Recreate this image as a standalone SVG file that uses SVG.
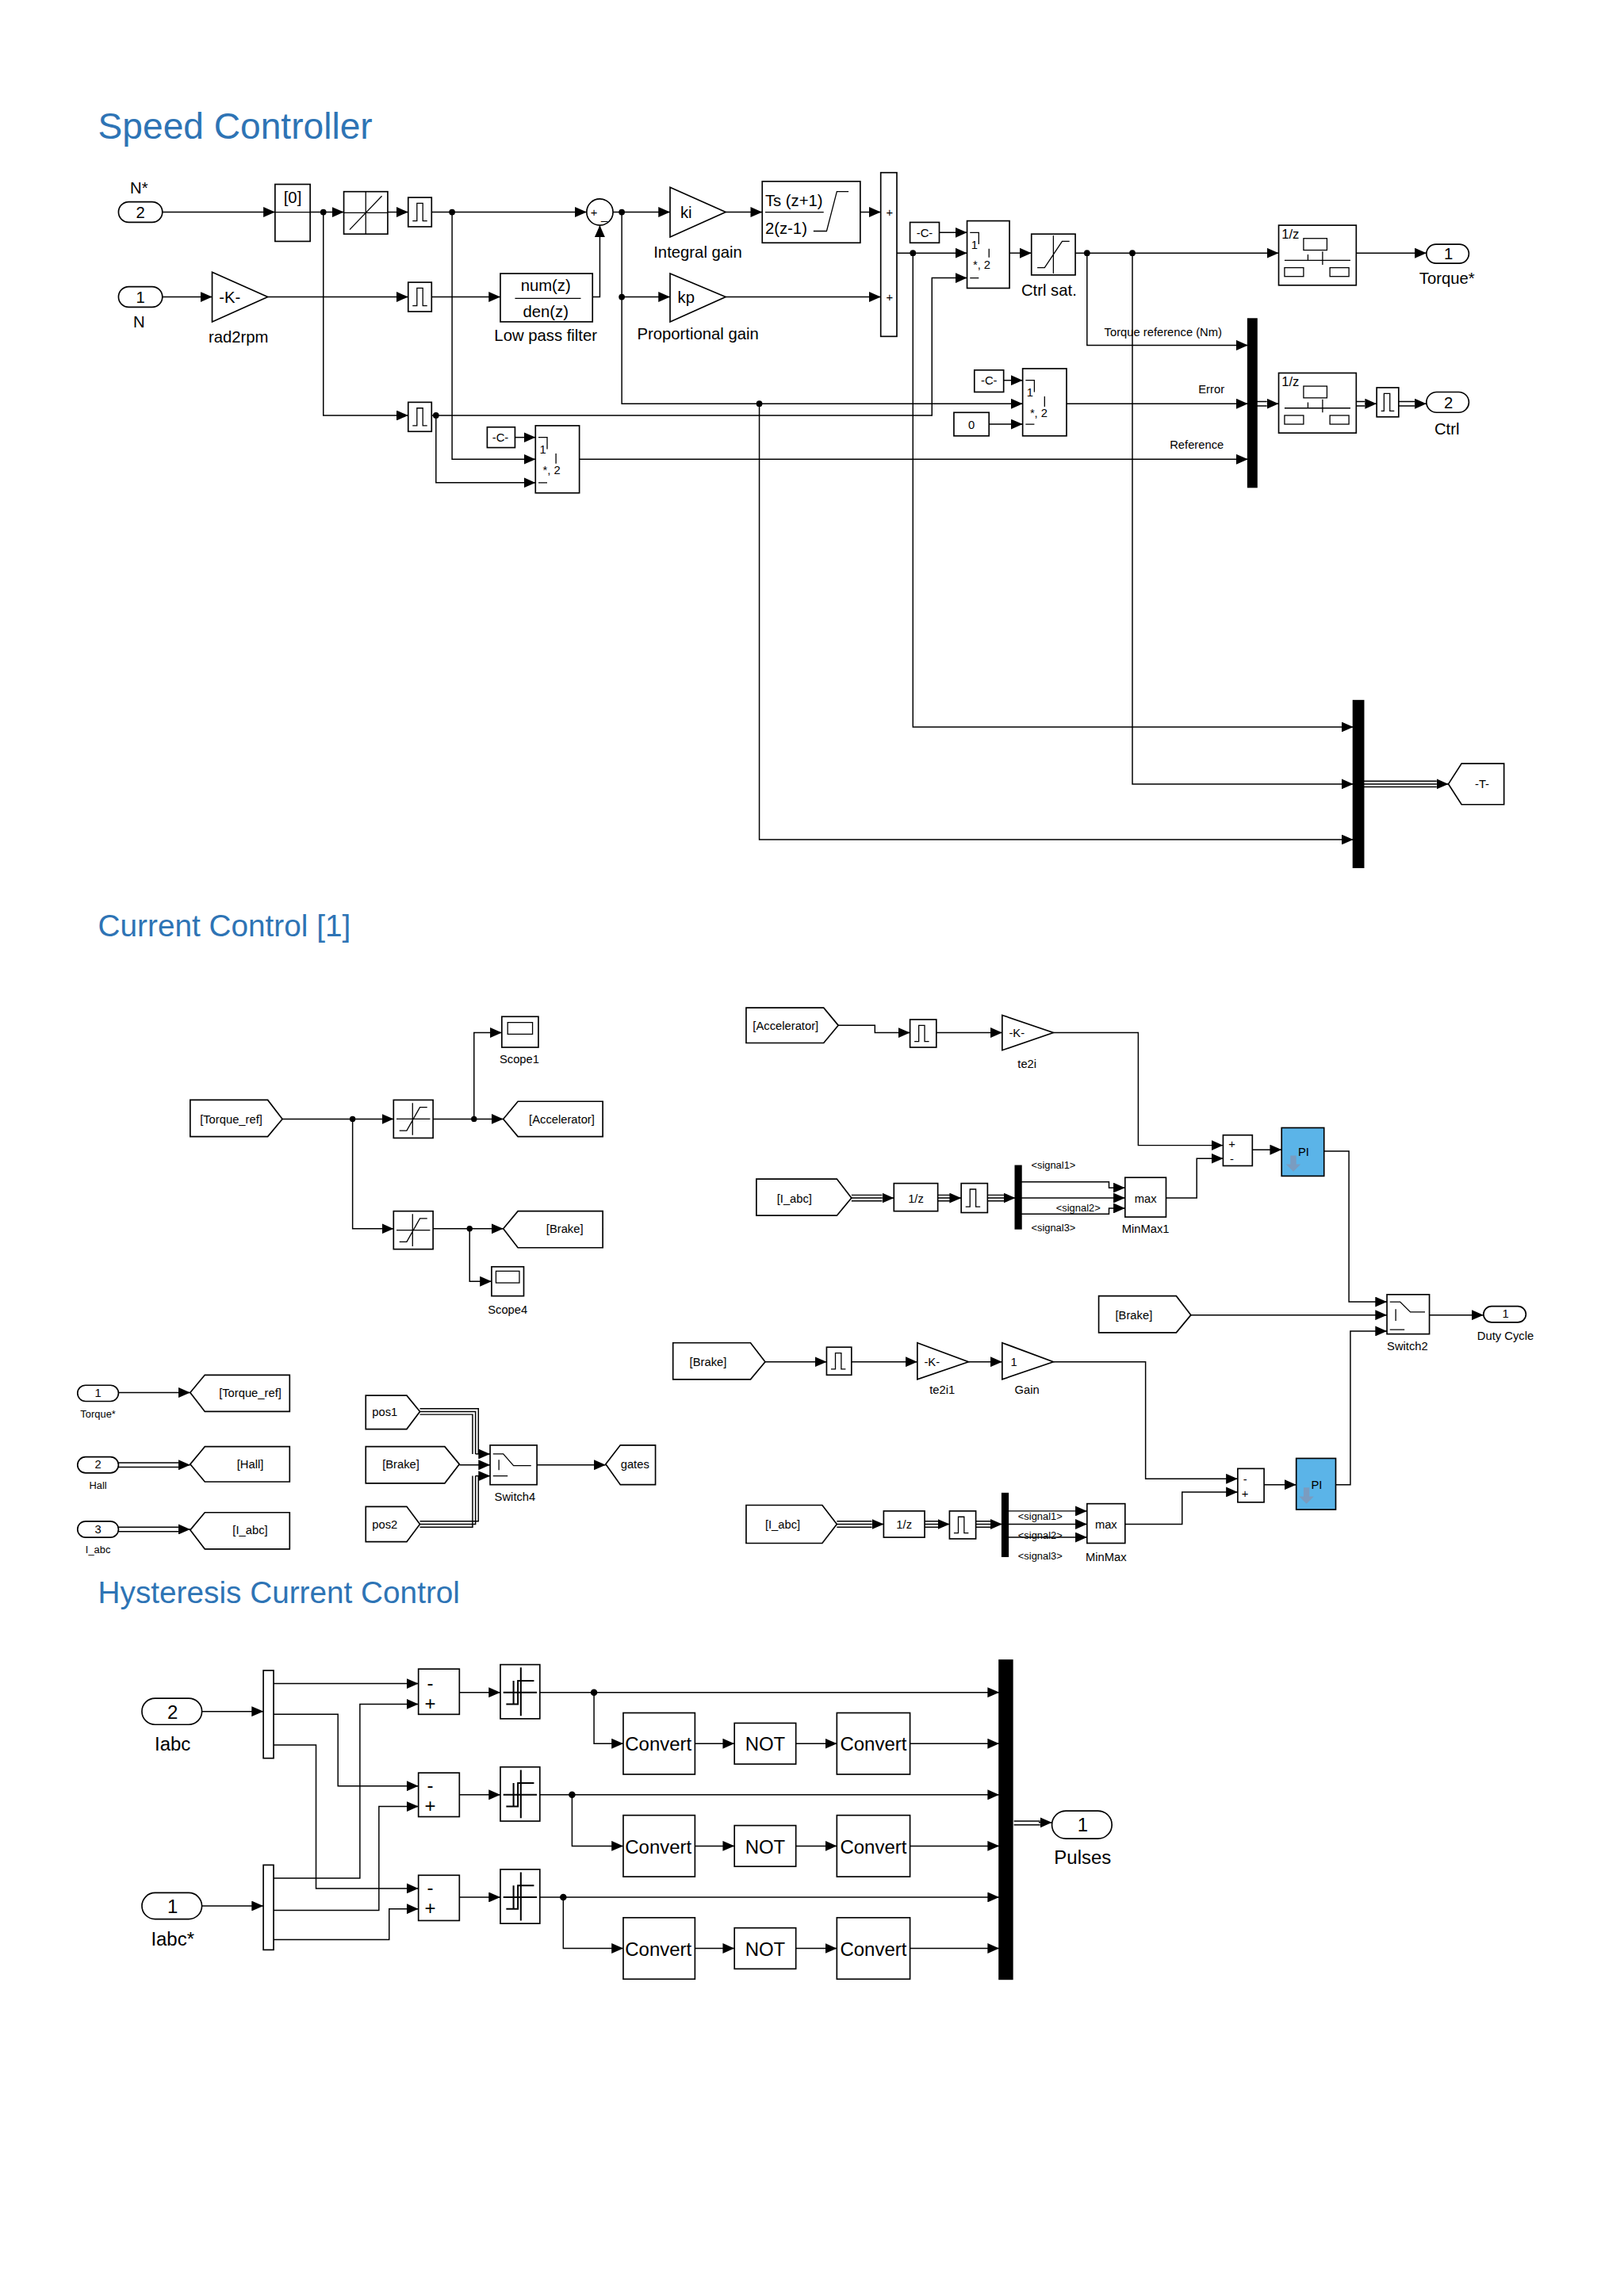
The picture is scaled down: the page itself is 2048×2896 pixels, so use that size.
<svg xmlns="http://www.w3.org/2000/svg" width="2048" height="2896" viewBox="0 0 2048 2896">
<style>
.b{fill:#fff;stroke:#000;stroke-width:0.9}
.k{fill:#000;stroke:#000}
.w{fill:none;stroke:#000;stroke-width:0.8}
.wa{fill:none;stroke:#000;stroke-width:0.8;marker-end:url(#a)}
.ic{fill:none;stroke:#000;stroke-width:0.7}
text{font-family:"Liberation Sans",Arial,sans-serif;fill:#000}
.s{font-size:11px;text-anchor:middle}
.m{font-size:8px;text-anchor:middle}
.h{font-size:13px;text-anchor:middle}
.ti{font-size:25px;fill:#2e74b5}
.ti2{font-size:21px;fill:#2e74b5}
.pi{fill:#5bb4e8;stroke:#000;stroke-width:0.9}
</style>
<defs>
<marker id="a" markerUnits="userSpaceOnUse" markerWidth="8" markerHeight="7" refX="8" refY="3.5" orient="auto"><path d="M0,0 L8,3.5 L0,7 z" fill="#000"/></marker>
</defs>
<rect width="2048" height="2896" fill="#fff"/>
<g transform="scale(1.845)">
<text class="ti" x="67" y="95">Speed Controller</text>
<text class="ti2" x="67" y="640">Current Control [1]</text>
<text class="ti2" x="67" y="1096">Hysteresis Current Control</text>

<!-- ===== Speed controller connectors ===== -->
<g id="sc-connectors">
<path class="wa" d="M111,145 H188"/>
<path class="wa" d="M212,145 H235"/>
<path class="wa" d="M265,145 H279"/>
<path class="wa" d="M295,145 H401"/>
<path class="wa" d="M419,145 H458"/>
<path class="wa" d="M496,145 H521"/>
<path class="wa" d="M588,145 H602"/>
<path class="wa" d="M111,203 H145"/>
<path class="wa" d="M183,203 H279"/>
<path class="wa" d="M295,203 H342"/>
<path class="wa" d="M405,203 H410 V154"/>
<path class="wa" d="M425,145 V276 H699"/>
<path class="wa" d="M425,203 H458"/>
<path class="wa" d="M496,203 H602"/>
<path class="wa" d="M613,173 H661"/>
<path class="wa" d="M642,159 H661"/>
<path class="wa" d="M221,145 V284 H279"/>
<path class="wa" d="M295,284 H637 V190 H661"/>
<path class="wa" d="M298,284 V330 H366"/>
<path class="wa" d="M309,145 V314 H366"/>
<path class="wa" d="M352,299 H366"/>
<path class="wa" d="M396,314 H853"/>
<path class="wa" d="M690,173 H705"/>
<path class="wa" d="M735,173 H874"/>
<path class="wa" d="M927,173 H975"/>
<path class="wa" d="M743,173 V236 H853"/>
<path class="wa" d="M686,260 H699"/>
<path class="wa" d="M676,290 H699"/>
<path class="wa" d="M729,276 H853"/>
<path class="w" d="M859,274.5 H866 M859,277.5 H866 M927,274.5 H933 M927,277.5 H933 M956,274.5 H967 M956,277.5 H967"/>
<path class="wa" d="M866,276 H874"/>
<path class="wa" d="M933,276 H941"/>
<path class="wa" d="M967,276 H975"/>
<path class="wa" d="M624,173 V497 H925"/>
<path class="wa" d="M774,173 V536 H925"/>
<path class="wa" d="M519,276 V574 H925"/>
<path class="w" d="M932,534 H982 M932,536 H982 M932,538 H982"/>
<path class="wa" d="M982,536 H990"/>
<g class="k"><circle cx="221" cy="145" r="1.6"/><circle cx="309" cy="145" r="1.6"/><circle cx="425" cy="145" r="1.6"/><circle cx="425" cy="203" r="1.6"/><circle cx="298" cy="284" r="1.6"/><circle cx="519" cy="276" r="1.6"/><circle cx="624" cy="173" r="1.6"/><circle cx="743" cy="173" r="1.6"/><circle cx="774" cy="173" r="1.6"/></g>
<text class="m" x="795" y="230">Torque reference (Nm)</text>
<text class="m" x="828" y="269">Error</text>
<text class="m" x="818" y="307">Reference</text>
</g>

<!-- ===== Speed controller nodes ===== -->
<g id="sc-in2"><rect class="b" x="81" y="138" width="30" height="14" rx="7"/><text class="s" x="96" y="149">2</text><text class="s" x="95" y="132">N*</text></g>
<g id="sc-in1"><rect class="b" x="81" y="196" width="30" height="14" rx="7"/><text class="s" x="96" y="207">1</text><text class="s" x="95" y="224">N</text></g>
<g id="sc-ic"><rect class="b" x="188" y="126" width="24" height="39"/><path class="ic" d="M188,145 H212"/><text class="s" x="200" y="139">[0]</text></g>
<g id="sc-rl"><rect class="b" x="235" y="131" width="30" height="29"/><path class="ic" d="M250,131 V160 M235,145.5 H265 M239,157 L261,134"/></g>
<g id="sc-zoh1"><rect class="b" x="279" y="135" width="16" height="20"/><path class="ic" d="M282,151 h3 v-12 h4 v12 h3"/></g>
<g id="sc-zoh2"><rect class="b" x="279" y="193" width="16" height="20"/><path class="ic" d="M282,209 h3 v-12 h4 v12 h3"/></g>
<g id="sc-zoh3"><rect class="b" x="279" y="275" width="16" height="20"/><path class="ic" d="M282,291 h3 v-12 h4 v12 h3"/></g>
<g id="sc-sum"><circle class="b" cx="410" cy="145" r="9"/><text class="m" x="406" y="148">+</text><text class="m" x="413" y="150">_</text></g>
<g id="sc-k"><path class="b" d="M145,186 L183,203 L145,220 Z"/><text class="s" x="157" y="207">-K-</text><text class="s" x="163" y="234">rad2rpm</text></g>
<g id="sc-lpf"><rect class="b" x="342" y="187" width="63" height="33"/><path class="ic" d="M352,204 H397"/><text class="s" x="373" y="199">num(z)</text><text class="s" x="373" y="217">den(z)</text><text class="s" x="373" y="233">Low pass filter</text></g>
<g id="sc-ki"><path class="b" d="M458,128 L496,145 L458,162 Z"/><text class="s" x="469" y="149">ki</text><text class="s" x="477" y="176">Integral gain</text></g>
<g id="sc-kp"><path class="b" d="M458,187 L496,203 L458,220 Z"/><text class="s" x="469" y="207">kp</text><text class="s" x="477" y="232">Proportional gain</text></g>
<g id="sc-int"><rect class="b" x="521" y="124" width="67" height="42"/><path class="ic" d="M523,145 H563 M556,158 H565 L572,131 H580"/><text x="523" y="141" style="font-size:11px">Ts (z+1)</text><text x="523" y="160" style="font-size:11px">2(z-1)</text></g>
<g id="sc-sum2"><rect class="b" x="602" y="118" width="11" height="112"/><text class="m" x="608" y="148">+</text><text class="m" x="608" y="206">+</text></g>
<g id="sc-c1"><rect class="b" x="622" y="152" width="20" height="14"/><text class="m" x="632" y="162">-C-</text></g>
<g id="sc-sw1"><rect class="b" x="661" y="151" width="29" height="46"/><path class="ic" d="M663,159 H669 V167 M676,170 V176 M663,190 H669"/><text class="m" x="666" y="170">1</text><text class="m" x="671" y="184">*, 2</text></g>
<g id="sc-sat"><rect class="b" x="705" y="160" width="30" height="28"/><path class="ic" d="M709,183 h5 L726,165 h5 M720,161 V187"/><text class="s" x="717" y="202">Ctrl sat.</text></g>
<g id="sc-rt1"><rect class="b" x="874" y="154" width="53" height="41"/><text x="876" y="163" style="font-size:9px">1/z</text><rect class="ic" x="891" y="163" width="16" height="8"/><path class="ic" d="M878,178 H923 M894,178 V174 M904,172 V181"/><rect class="ic" x="878" y="183" width="13" height="6"/><rect class="ic" x="909" y="183" width="13" height="6"/></g>
<g id="sc-out1"><rect class="b" x="975" y="167" width="29" height="13" rx="6.5"/><text class="s" x="990" y="177">1</text><text class="s" x="989" y="194">Torque*</text></g>
<g id="sc-mux1"><rect class="k" x="853" y="218" width="6" height="115"/></g>
<g id="sc-c2"><rect class="b" x="666" y="253" width="20" height="15"/><text class="m" x="676" y="263">-C-</text></g>
<g id="sc-z0"><rect class="b" x="652" y="282" width="24" height="16"/><text class="m" x="664" y="293">0</text></g>
<g id="sc-sw2"><rect class="b" x="699" y="252" width="30" height="46"/><path class="ic" d="M701,260 H707 V268 M714,271 V278 M701,290 H707"/><text class="m" x="704" y="271">1</text><text class="m" x="710" y="285">*, 2</text></g>
<g id="sc-rt2"><rect class="b" x="874" y="255" width="53" height="41"/><text x="876" y="264" style="font-size:9px">1/z</text><rect class="ic" x="891" y="264" width="16" height="8"/><path class="ic" d="M878,279 H923 M894,279 V275 M904,273 V282"/><rect class="ic" x="878" y="284" width="13" height="6"/><rect class="ic" x="909" y="284" width="13" height="6"/></g>
<g id="sc-zoh4"><rect class="b" x="941" y="265" width="15" height="20"/><path class="ic" d="M944,281 h2 v-12 h4 v12 h3"/></g>
<g id="sc-out2"><rect class="b" x="975" y="268" width="29" height="14" rx="7"/><text class="s" x="990" y="279">2</text><text class="s" x="989" y="297">Ctrl</text></g>
<g id="sc-c3"><rect class="b" x="333" y="292" width="19" height="14"/><text class="m" x="342" y="302">-C-</text></g>
<g id="sc-sw3"><rect class="b" x="366" y="291" width="30" height="46"/><path class="ic" d="M368,299 H374 V307 M380,310 V317 M368,330 H374"/><text class="m" x="371" y="310">1</text><text class="m" x="377" y="324">*, 2</text></g>
<g id="sc-mux2"><rect class="k" x="925" y="479" width="7" height="114"/></g>
<g id="sc-gotoT"><path class="b" d="M990,536 L999,522 H1028 V550 H999 Z"/><text class="m" x="1013" y="539">-T-</text></g>

<!-- ===== Current control connectors ===== -->
<g id="cc-connectors">
<path class="wa" d="M193,765 H269"/>
<path class="wa" d="M296,765 H344"/>
<path class="wa" d="M324,765 V706 H343"/>
<path class="wa" d="M241,765 V840 H269"/>
<path class="wa" d="M296,840 H344"/>
<path class="wa" d="M321,840 V876 H336"/>
<path class="wa" d="M81,952 H130"/>
<path class="w" d="M81,1000 H122 M81,1003 H122"/><path class="wa" d="M122,1001.5 H130"/>
<path class="w" d="M81,1044 H122 M81,1047 H122"/><path class="wa" d="M122,1045.5 H130"/>
<path class="w" d="M287,963 H327 V994 M287,965 H325 V994 M287,967 H323 V994"/><path class="wa" d="M325,994 H335"/>
<path class="wa" d="M314,1001.5 H335"/>
<path class="w" d="M287,1040 H327 V1009 M287,1042 H325 V1009 M287,1044 H323 V1009"/><path class="wa" d="M325,1009 H335"/>
<path class="wa" d="M367,1001.5 H414"/>
<g class="k"><circle cx="241" cy="765" r="1.5"/><circle cx="324" cy="765" r="1.5"/><circle cx="321" cy="840" r="1.5"/></g>

<path class="wa" d="M573,701 H598 V706 H622"/>
<path class="wa" d="M640,706 H685"/>
<path class="wa" d="M720,706 H778 V783 H836"/>
<path class="wa" d="M856,786 H876"/>
<path class="wa" d="M905,787 H922 V890 H948"/>
<path class="w" d="M582,817 H603 M582,819 H603 M582,821 H603"/><path class="wa" d="M603,819 H611"/>
<path class="w" d="M641,817 H650 M641,819 H650 M641,821 H650"/><path class="wa" d="M650,819 H657"/>
<path class="w" d="M675,817 H688 M675,819 H688 M675,821 H688"/><path class="wa" d="M688,819 H694"/>
<path class="wa" d="M698,808 H758 V812 H769"/>
<path class="wa" d="M698,819 H769"/>
<path class="wa" d="M698,830 H758 V826 H769"/>
<path class="wa" d="M797,819 H818 V792 H836"/>
<path class="wa" d="M814,899 H948"/>
<path class="wa" d="M977,899 H1014"/>
<path class="wa" d="M523,931 H565"/>
<path class="wa" d="M582,931 H627"/>
<path class="wa" d="M662,931 H685"/>
<path class="wa" d="M720,931 H783 V1011 H846"/>
<path class="wa" d="M864,1015 H886"/>
<path class="wa" d="M913,1015 H923 V910 H948"/>
<path class="w" d="M572,1040 H596 M572,1042 H596 M572,1044 H596"/><path class="wa" d="M596,1042 H604"/>
<path class="w" d="M632,1040 H642 M632,1042 H642 M632,1044 H642"/><path class="wa" d="M642,1042 H649"/>
<path class="w" d="M667,1040 H679 M667,1042 H679 M667,1044 H679"/><path class="wa" d="M679,1042 H685"/>
<path class="wa" d="M689,1033 H743"/>
<path class="wa" d="M689,1042 H743"/>
<path class="wa" d="M689,1051 H743"/>
<path class="wa" d="M769,1042 H808 V1020 H846"/>
<text class="m" x="720" y="799" style="font-size:7px">&lt;signal1&gt;</text>
<text class="m" x="737" y="828" style="font-size:7px">&lt;signal2&gt;</text>
<text class="m" x="720" y="842" style="font-size:7px">&lt;signal3&gt;</text>
<text class="m" x="711" y="1039" style="font-size:7px">&lt;signal1&gt;</text>
<text class="m" x="711" y="1052" style="font-size:7px">&lt;signal2&gt;</text>
<text class="m" x="711" y="1066" style="font-size:7px">&lt;signal3&gt;</text>
</g>

<!-- ===== Current control nodes ===== -->
<g id="cc-from-tr"><path class="b" d="M130,752 H183 L193,765 L183,777 H130 Z"/><text class="m" x="158" y="768">[Torque_ref]</text></g>
<g id="cc-sat1"><rect class="b" x="269" y="752" width="27" height="26"/><path class="ic" d="M273,773 h5 L287,757 h5 M282,754 V776 M271,765 H294"/></g>
<g id="cc-sat2"><rect class="b" x="269" y="828" width="27" height="26"/><path class="ic" d="M273,849 h5 L287,833 h5 M282,830 V852 M271,841 H294"/></g>
<g id="cc-scope1"><rect class="b" x="343" y="695" width="25" height="21"/><rect class="ic" x="347" y="699" width="17" height="8"/><text class="m" x="355" y="727">Scope1</text></g>
<g id="cc-goto-acc"><path class="b" d="M344,765 L354,753 H412 V777 H354 Z"/><text class="m" x="384" y="768">[Accelerator]</text></g>
<g id="cc-goto-brake"><path class="b" d="M344,840 L354,828 H412 V853 H354 Z"/><text class="m" x="386" y="843">[Brake]</text></g>
<g id="cc-scope4"><rect class="b" x="336" y="866" width="22" height="20"/><rect class="ic" x="339" y="869" width="16" height="8"/><text class="m" x="347" y="898">Scope4</text></g>
<g id="cc-in1"><rect class="b" x="53" y="947" width="28" height="11" rx="5.5"/><text class="m" x="67" y="955">1</text><text class="m" x="67" y="969" style="font-size:7px">Torque*</text></g>
<g id="cc-in2"><rect class="b" x="53" y="996" width="28" height="11" rx="5.5"/><text class="m" x="67" y="1004">2</text><text class="m" x="67" y="1018" style="font-size:7px">Hall</text></g>
<g id="cc-in3"><rect class="b" x="53" y="1040" width="28" height="11" rx="5.5"/><text class="m" x="67" y="1048">3</text><text class="m" x="67" y="1062" style="font-size:7px">I_abc</text></g>
<g id="cc-goto-tr"><path class="b" d="M130,952 L140,940 H198 V965 H140 Z"/><text class="m" x="171" y="955">[Torque_ref]</text></g>
<g id="cc-goto-hall"><path class="b" d="M130,1001 L140,989 H198 V1013 H140 Z"/><text class="m" x="171" y="1004">[Hall]</text></g>
<g id="cc-goto-iabc"><path class="b" d="M130,1046 L140,1034 H198 V1059 H140 Z"/><text class="m" x="171" y="1049">[I_abc]</text></g>
<g id="cc-pos1"><path class="b" d="M250,954 H278 L287,965 L278,977 H250 Z"/><text class="m" x="263" y="968">pos1</text></g>
<g id="cc-from-brake2"><path class="b" d="M250,989 H304 L314,1001 L304,1014 H250 Z"/><text class="m" x="274" y="1004">[Brake]</text></g>
<g id="cc-pos2"><path class="b" d="M250,1030 H278 L287,1042 L278,1054 H250 Z"/><text class="m" x="263" y="1045">pos2</text></g>
<g id="cc-sw4"><rect class="b" x="335" y="988" width="32" height="27"/><path class="ic" d="M337,994 H344 L351,1002 H363 M341,998 V1005 M337,1009 H347"/><text class="m" x="352" y="1026">Switch4</text></g>
<g id="cc-gates"><path class="b" d="M414,1001 L424,988 H448 V1015 H424 Z"/><text class="m" x="434" y="1004">gates</text></g>

<g id="cc-from-acc"><path class="b" d="M510,689 H563 L573,701 L563,713 H510 Z"/><text class="m" x="537" y="704">[Accelerator]</text></g>
<g id="cc-zoh1"><rect class="b" x="622" y="697" width="18" height="19"/><path class="ic" d="M625,712 h3 v-11 h4 v11 h3"/></g>
<g id="cc-k1"><path class="b" d="M685,694 L720,706 L685,718 Z"/><text class="m" x="695" y="709">-K-</text><text class="m" x="702" y="730">te2i</text></g>
<g id="cc-sum1"><rect class="b" x="836" y="776" width="20" height="21"/><text class="m" x="842" y="785">+</text><text class="m" x="842" y="795">-</text></g>
<g id="cc-pi1"><rect class="pi" x="876" y="771" width="29" height="33"/><text class="m" x="891" y="790">PI</text><path d="M882,790 h4 v6 h3 l-5,5 l-5,-5 h3 z" fill="#7a9cc0"/></g>
<g id="cc-from-iabc1"><path class="b" d="M517,806 H572 L582,819 L572,831 H517 Z"/><text class="m" x="543" y="822">[I_abc]</text></g>
<g id="cc-d1"><rect class="b" x="611" y="809" width="30" height="19"/><text class="m" x="626" y="822">1/z</text></g>
<g id="cc-zoh2"><rect class="b" x="657" y="809" width="18" height="20"/><path class="ic" d="M660,825 h3 v-12 h4 v12 h3"/></g>
<g id="cc-demux1"><rect class="k" x="694" y="797" width="4" height="43"/></g>
<g id="cc-max1"><rect class="b" x="769" y="805" width="28" height="27"/><text class="m" x="783" y="822">max</text><text class="m" x="783" y="843">MinMax1</text></g>
<g id="cc-from-brake3"><path class="b" d="M751,886 H804 L814,899 L804,911 H751 Z"/><text class="m" x="775" y="902">[Brake]</text></g>
<g id="cc-sw2"><rect class="b" x="948" y="885" width="29" height="27"/><path class="ic" d="M950,890 H957 L964,897 H974 M954,895 V903 M950,909 H960"/><text class="m" x="962" y="923">Switch2</text></g>
<g id="cc-duty"><rect class="b" x="1014" y="893" width="29" height="11" rx="5.5"/><text class="m" x="1029" y="901">1</text><text class="m" x="1029" y="916">Duty Cycle</text></g>
<g id="cc-from-brake4"><path class="b" d="M460,918 H513 L523,931 L513,943 H460 Z"/><text class="m" x="484" y="934">[Brake]</text></g>
<g id="cc-zoh3"><rect class="b" x="565" y="921" width="17" height="19"/><path class="ic" d="M568,936 h3 v-11 h4 v11 h3"/></g>
<g id="cc-k2"><path class="b" d="M627,918 L662,931 L627,943 Z"/><text class="m" x="637" y="934">-K-</text><text class="m" x="644" y="953">te2i1</text></g>
<g id="cc-gain"><path class="b" d="M685,918 L720,931 L685,943 Z"/><text class="m" x="693" y="934">1</text><text class="m" x="702" y="953">Gain</text></g>
<g id="cc-sum2"><rect class="b" x="846" y="1004" width="18" height="23"/><text class="m" x="851" y="1014">-</text><text class="m" x="851" y="1024">+</text></g>
<g id="cc-pi2"><rect class="pi" x="886" y="997" width="27" height="35"/><text class="m" x="900" y="1018">PI</text><path d="M891,1017 h4 v6 h3 l-5,5 l-5,-5 h3 z" fill="#7a9cc0"/></g>
<g id="cc-from-iabc2"><path class="b" d="M510,1029 H562 L572,1042 L562,1055 H510 Z"/><text class="m" x="535" y="1045">[I_abc]</text></g>
<g id="cc-d2"><rect class="b" x="604" y="1033" width="28" height="18"/><text class="m" x="618" y="1045">1/z</text></g>
<g id="cc-zoh4"><rect class="b" x="649" y="1033" width="18" height="19"/><path class="ic" d="M652,1048 h3 v-11 h4 v11 h3"/></g>
<g id="cc-demux2"><rect class="k" x="685" y="1021" width="4" height="43"/></g>
<g id="cc-max2"><rect class="b" x="743" y="1028" width="26" height="27"/><text class="m" x="756" y="1045">max</text><text class="m" x="756" y="1067">MinMax</text></g>

<!-- ===== Hysteresis connectors ===== -->
<g id="hc-connectors">
<path class="wa" d="M138,1170 H180"/>
<path class="wa" d="M138,1303 H180"/>
<path class="wa" d="M187,1151 H286"/>
<path class="wa" d="M187,1172 H231 V1221 H286"/>
<path class="wa" d="M187,1193 H216 V1291 H286"/>
<path class="wa" d="M187,1284 H246 V1165 H286"/>
<path class="wa" d="M187,1306 H259 V1235 H286"/>
<path class="wa" d="M187,1326 H266 V1305 H286"/>
<path class="wa" d="M314,1157 H342"/>
<path class="wa" d="M314,1227 H342"/>
<path class="wa" d="M314,1297 H342"/>
<path class="wa" d="M369,1157 H683"/>
<path class="wa" d="M369,1227 H683"/>
<path class="wa" d="M369,1297 H683"/>
<path class="wa" d="M406,1157 V1192 H426"/>
<path class="wa" d="M391,1227 V1262 H426"/>
<path class="wa" d="M385,1297 V1332 H426"/>
<path class="wa" d="M475,1192 H502"/><path class="wa" d="M544,1192 H572"/><path class="wa" d="M622,1192 H683"/>
<path class="wa" d="M475,1262 H502"/><path class="wa" d="M544,1262 H572"/><path class="wa" d="M622,1262 H683"/>
<path class="wa" d="M475,1332 H502"/><path class="wa" d="M544,1332 H572"/><path class="wa" d="M622,1332 H683"/>
<path class="w" d="M693,1245 H711 M693,1247.5 H711"/><path class="wa" d="M710,1246 H719"/>
<g class="k"><circle cx="406" cy="1157" r="1.8"/><circle cx="391" cy="1227" r="1.8"/><circle cx="385" cy="1297" r="1.8"/></g>
</g>

<!-- ===== Hysteresis nodes ===== -->
<g id="hc-in2"><rect class="b" x="97" y="1161" width="41" height="18" rx="9"/><text class="h" x="118" y="1175">2</text><text class="h" x="118" y="1197">Iabc</text></g>
<g id="hc-in1"><rect class="b" x="97" y="1294" width="41" height="18" rx="9"/><text class="h" x="118" y="1308">1</text><text class="h" x="118" y="1330">Iabc*</text></g>
<g id="hc-demux1"><rect class="b" x="180" y="1142" width="7" height="60"/></g>
<g id="hc-demux2"><rect class="b" x="180" y="1275" width="7" height="58"/></g>
<g id="hc-sum1"><rect class="b" x="286" y="1141" width="28" height="31"/><text class="h" x="294" y="1155">-</text><text class="h" x="294" y="1169">+</text></g>
<g id="hc-sum2"><rect class="b" x="286" y="1212" width="28" height="30"/><text class="h" x="294" y="1225">-</text><text class="h" x="294" y="1239">+</text></g>
<g id="hc-sum3"><rect class="b" x="286" y="1282" width="28" height="31"/><text class="h" x="294" y="1295">-</text><text class="h" x="294" y="1309">+</text></g>
<g id="hc-relay1"><rect class="b" x="342" y="1138" width="27" height="37"/><path class="ic" d="M356,1140 V1173 M344,1157 H367 M346,1165 H354 V1149 H365 M351,1165 V1149" style="stroke-width:1.1"/></g>
<g id="hc-relay2"><rect class="b" x="342" y="1208" width="27" height="37"/><path class="ic" d="M356,1210 V1243 M344,1227 H367 M346,1235 H354 V1219 H365 M351,1235 V1219" style="stroke-width:1.1"/></g>
<g id="hc-relay3"><rect class="b" x="342" y="1278" width="27" height="37"/><path class="ic" d="M356,1280 V1313 M344,1297 H367 M346,1305 H354 V1289 H365 M351,1305 V1289" style="stroke-width:1.1"/></g>
<g id="hc-conv1a"><rect class="b" x="426" y="1171" width="49" height="42"/><text class="h" x="450" y="1197">Convert</text></g>
<g id="hc-not1"><rect class="b" x="502" y="1178" width="42" height="28"/><text class="h" x="523" y="1197">NOT</text></g>
<g id="hc-conv1b"><rect class="b" x="572" y="1171" width="50" height="42"/><text class="h" x="597" y="1197">Convert</text></g>
<g id="hc-conv2a"><rect class="b" x="426" y="1241" width="49" height="42"/><text class="h" x="450" y="1267">Convert</text></g>
<g id="hc-not2"><rect class="b" x="502" y="1248" width="42" height="28"/><text class="h" x="523" y="1267">NOT</text></g>
<g id="hc-conv2b"><rect class="b" x="572" y="1241" width="50" height="42"/><text class="h" x="597" y="1267">Convert</text></g>
<g id="hc-conv3a"><rect class="b" x="426" y="1311" width="49" height="42"/><text class="h" x="450" y="1337">Convert</text></g>
<g id="hc-not3"><rect class="b" x="502" y="1318" width="42" height="28"/><text class="h" x="523" y="1337">NOT</text></g>
<g id="hc-conv3b"><rect class="b" x="572" y="1311" width="50" height="42"/><text class="h" x="597" y="1337">Convert</text></g>
<g id="hc-mux"><rect class="k" x="683" y="1135" width="9" height="218"/></g>
<g id="hc-out"><rect class="b" x="719" y="1238" width="41" height="19" rx="9.5"/><text class="h" x="740" y="1252">1</text><text class="h" x="740" y="1274">Pulses</text></g>
</g>
</svg>
